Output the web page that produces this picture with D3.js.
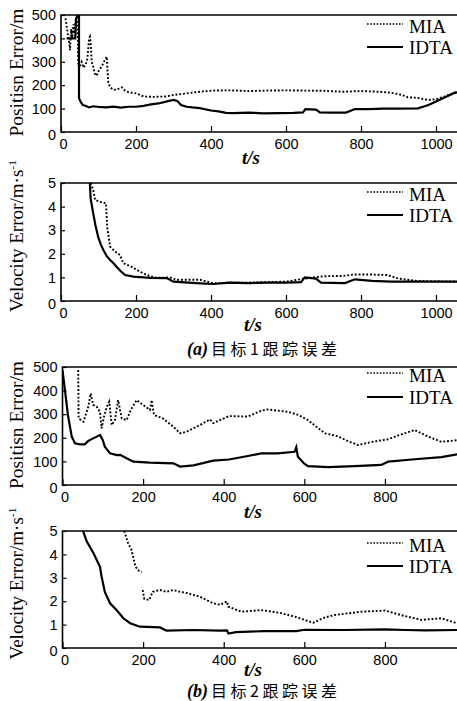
<!DOCTYPE html>
<html><head><meta charset="utf-8">
<script src="https://cdn.jsdelivr.net/npm/d3@7"></script>
<style>
html,body{margin:0;padding:0;background:#fff;}
svg{display:block;}
</style></head>
<body>
<svg id="c" width="457" height="701"></svg>
<script>
// ---- data ----
const xTicks1 = [0,200,400,600,800,1000];
const xTicks2 = [0,200,400,600,800];
const posTicks = [0,100,200,300,400,500];
const velTicks = [0,1,2,3,4,5];
const seriesNames = ["MIA","IDTA"];
const captions = [["(a)","目标1跟踪误差"],["(b)","目标2跟踪误差"]];

// target 1 position error [t, m]
const t1PosMIA = [[12,486],[18,420],[22,380],[24,350],[27,440],[30,400],[33,460],[36,420],[40,490],[44,470],[46,300],[48,273],[52,290],[55,300],[60,275],[65,285],[70,310],[75,400],[77,407],[79,380],[82,300],[86,280],[90,250],[95,240],[100,260],[110,285],[118,310],[122,322],[126,208],[132,190],[140,180],[150,182],[162,191],[170,178],[180,170],[200,165],[215,155],[228,151],[250,150],[264,151],[280,152],[300,158],[335,165],[370,172],[406,177],[450,178],[500,175],[550,177],[600,178],[650,177],[700,176],[750,172],[800,175],[850,172],[880,168],[910,158],[925,148],[950,146],[979,137],[1000,140],[1020,150],[1040,163],[1060,170]];
const t1PosIDTA = [[15,400],[38,400],[40,480],[44,500],[48,500],[48,145],[52,130],[58,115],[65,112],[75,105],[85,110],[100,107],[120,105],[140,108],[160,104],[180,108],[200,108],[220,112],[240,118],[260,122],[280,130],[300,137],[310,133],[320,115],[335,108],[350,105],[370,102],[400,92],[420,88],[440,82],[460,81],[500,83],[540,80],[580,81],[620,82],[645,84],[652,98],[680,96],[690,84],[720,83],[760,83],[784,98],[820,98],[860,100],[900,100],[952,101],[980,115],[1000,130],[1020,145],[1040,160],[1050,168],[1060,170]];
// target 1 velocity error [t, m/s]
const t1VelMIA = [[79,5.0],[86,4.7],[91,4.28],[104,4.2],[120,4.14],[123,3.15],[131,2.3],[144,2.1],[157,1.95],[166,1.6],[188,1.45],[211,1.24],[229,1.1],[255,0.98],[290,1.0],[308,0.9],[371,0.9],[406,0.75],[450,0.78],[500,0.78],[550,0.8],[600,0.82],[650,0.95],[700,1.05],[750,1.06],[780,1.12],[830,1.12],[870,1.1],[900,0.95],[950,0.85],[1060,0.82]];
const t1VelIDTA = [[77,5.0],[79,4.35],[86,3.7],[92,3.2],[99,2.72],[106,2.4],[113,2.16],[122,1.9],[131,1.74],[140,1.6],[148,1.45],[160,1.25],[171,1.1],[193,1.03],[238,0.98],[282,0.97],[300,0.82],[340,0.78],[371,0.75],[406,0.72],[450,0.78],[500,0.76],[550,0.78],[600,0.78],[640,0.8],[650,1.0],[680,0.95],[693,0.78],[757,0.76],[784,0.92],[830,0.85],[880,0.82],[950,0.82],[1060,0.82]];
// target 2 position error
const t2PosMIA = [[39,487],[40,282],[46,275],[52,268],[58,300],[64,332],[70,388],[76,340],[85,332],[93,310],[97,240],[103,290],[110,332],[116,353],[122,254],[130,275],[138,360],[147,282],[159,275],[170,320],[184,360],[200,339],[217,318],[221,360],[227,297],[249,282],[275,247],[292,219],[308,226],[341,254],[366,278],[374,262],[413,292],[460,290],[493,315],[509,320],[560,310],[585,297],[609,275],[651,219],[670,212],[684,205],[710,185],[733,169],[766,182],[808,194],[833,210],[874,233],[907,205],[940,183],[980,190]];
const t2PosIDTA = [[0,487],[6,403],[14,290],[23,205],[31,177],[43,172],[55,172],[64,187],[85,205],[93,212],[100,190],[105,162],[118,134],[135,127],[143,128],[159,113],[176,99],[217,95],[275,92],[292,78],[325,83],[374,103],[413,108],[460,123],[493,134],[534,134],[576,141],[580,160],[584,120],[600,90],[609,80],[659,76],[725,80],[791,85],[808,99],[874,109],[940,118],[980,130]];
// target 2 velocity error (null = gap)
const t2VelMIA = [[153,5.0],[163,4.47],[171,4.2],[180,3.55],[186,3.33],[197,3.25],[198,null],[199,2.48],[203,2.1],[215,2.05],[224,2.4],[242,2.48],[258,2.4],[275,2.48],[292,2.4],[308,2.35],[341,2.19],[374,1.91],[391,1.85],[408,1.99],[411,1.77],[444,1.55],[493,1.62],[540,1.5],[576,1.34],[622,1.08],[650,1.3],[675,1.41],[741,1.55],[800,1.6],[841,1.4],[891,1.2],[940,1.27],[980,1.05]];
const t2VelIDTA = [[51,5.0],[60,4.56],[77,4.05],[93,3.47],[97,3.05],[105,2.4],[118,1.91],[134,1.62],[151,1.27],[168,1.06],[192,0.91],[242,0.88],[258,0.74],[325,0.77],[391,0.74],[408,0.75],[412,0.62],[430,0.68],[500,0.72],[580,0.72],[600,0.78],[700,0.77],[800,0.8],[850,0.77],[900,0.75],[980,0.77]];

// ---- layout ----
const svg = d3.select("#c");
const panels = [
  {top:15, bottom:132, xd:[0,1060], xr:[61,458.5], yd:[0,500], xt:xTicks1, yt:posTicks, mia:t1PosMIA, idta:t1PosIDTA, ylab:"pos", lx:251, ty:32},
  {top:183, bottom:301, xd:[0,1060], xr:[61,458.5], yd:[0,5], xt:xTicks1, yt:velTicks, mia:t1VelMIA, idta:t1VelIDTA, ylab:"vel", lx:253, ty:30},
  {top:367, bottom:485, xd:[0,985], xr:[62.5,459.5], yd:[0,500], xt:xTicks2, yt:posTicks, mia:t2PosMIA, idta:t2PosIDTA, ylab:"pos", lx:253, ty:33},
  {top:531, bottom:648, xd:[0,985], xr:[62.5,459.5], yd:[0,5], xt:xTicks2, yt:velTicks, mia:t2VelMIA, idta:t2VelIDTA, ylab:"vel", lx:253, ty:27.5}
];
const SANS = "'Liberation Sans', Arial, sans-serif";
const SERIF = "'Liberation Serif', 'Times New Roman', serif";
const fmt = d3.format("d");

panels.forEach((p,i)=>{
  const x = d3.scaleLinear().domain(p.xd).range(p.xr);
  const y = d3.scaleLinear().domain(p.yd).range([p.bottom,p.top]);
  const g = svg.append("g");
  const cid = "clip"+i;
  svg.append("clipPath").attr("id",cid).append("rect")
    .attr("x",p.xr[0]).attr("y",p.top).attr("width",p.xr[1]-p.xr[0]).attr("height",p.bottom-p.top);

  const line = d3.line().defined(d=>d[1]!==null).x(d=>x(d[0])).y(d=>y(d[1]));
  const lg = g.append("g").attr("clip-path","url(#"+cid+")");
  lg.append("path").attr("d",line(p.mia)).attr("fill","none").attr("stroke","#000")
    .attr("stroke-width",1.9).attr("stroke-dasharray","1.9,1.9");
  lg.append("path").attr("d",line(p.idta)).attr("fill","none").attr("stroke","#000")
    .attr("stroke-width",2.2);

  // axes
  const xa = g.append("g").attr("transform",`translate(0,${p.bottom})`)
    .call(d3.axisBottom(x).tickValues(p.xt).tickFormat(fmt).tickSize(-6).tickPadding(6.5));
  xa.select(".domain").remove();
  xa.selectAll("line").attr("stroke-width",1.2);
  xa.selectAll("text").attr("font-family",SANS).attr("font-size","14.5px").attr("fill","#000");
  xa.selectAll(".tick").filter(d=>d===0).select("text").attr("dx","2");

  const ya = g.append("g").attr("transform",`translate(${p.xr[0]},0)`)
    .call(d3.axisLeft(y).tickValues(p.yt).tickFormat(fmt).tickSize(-4).tickPadding(5));
  ya.select(".domain").remove();
  ya.selectAll("line").attr("stroke-width",1.2);
  ya.selectAll("text").attr("font-family",SANS).attr("font-size","14.5px").attr("fill","#000");
  ya.selectAll(".tick").filter(d=>d===0).select("text").attr("dy","0.55em");

  // frame (right edge off-canvas)
  g.append("path").attr("d",`M${p.xr[1]+2},${p.top}H${p.xr[0]}V${p.bottom}H${p.xr[1]+2}`)
    .attr("fill","none").attr("stroke","#000").attr("stroke-width",1.6);

  // legend
  const ly = [p.top + (i===2?6:(i===3?12:9)), p.top + (i===2?30:(i===3?35:32))];
  seriesNames.forEach((nm,k)=>{
    g.append("line").attr("x1",367).attr("x2",403).attr("y1",ly[k]).attr("y2",ly[k])
      .attr("stroke","#000").attr("stroke-width",k===0?1.6:2.2)
      .attr("stroke-dasharray",k===0?"1.6,1.6":null);
    g.append("text").attr("x",409).attr("y",ly[k]+(k===0?9:7)).text(nm)
      .attr("font-family",SERIF).attr("font-size","19px").attr("fill","#000");
  });

  // x label
  g.append("text").attr("x",p.lx).attr("y",p.bottom+p.ty).attr("text-anchor","middle")
    .attr("font-family",SERIF).attr("font-size","19px").attr("font-style","italic").attr("font-weight","bold")
    .text("t/s");

  // y label
  const cy = (p.top+p.bottom)/2 + (p.ylab==="pos"? -1 : -6);
  const yl = g.append("text").attr("transform",`translate(23,${cy}) rotate(-90)`)
    .attr("text-anchor","middle").attr("font-family",SERIF).attr("font-size","18px").attr("fill","#000");
  if(p.ylab==="pos"){
    yl.text("Positisn Error/m").attr("textLength",128).attr("lengthAdjust","spacingAndGlyphs");
  } else {
    yl.attr("textLength",152).attr("lengthAdjust","spacingAndGlyphs");
    yl.append("tspan").text("Velocity Error/m·s");
    yl.append("tspan").text("-1").attr("font-size","11px").attr("dy","-7");
  }
});

// captions
[355,697].forEach((yy,i)=>{
  svg.append("text").attr("x",187).attr("y",yy).attr("font-family",SERIF).attr("font-size","18px")
    .attr("font-style","italic").attr("font-weight","bold").text(captions[i][0]);
  svg.append("text").attr("x",211).attr("y",yy).attr("font-family","'Noto Sans CJK SC', sans-serif")
    .attr("font-size","16px").attr("textLength",126).attr("lengthAdjust","spacing").text(captions[i][1]);
});
</script>
</body></html>
